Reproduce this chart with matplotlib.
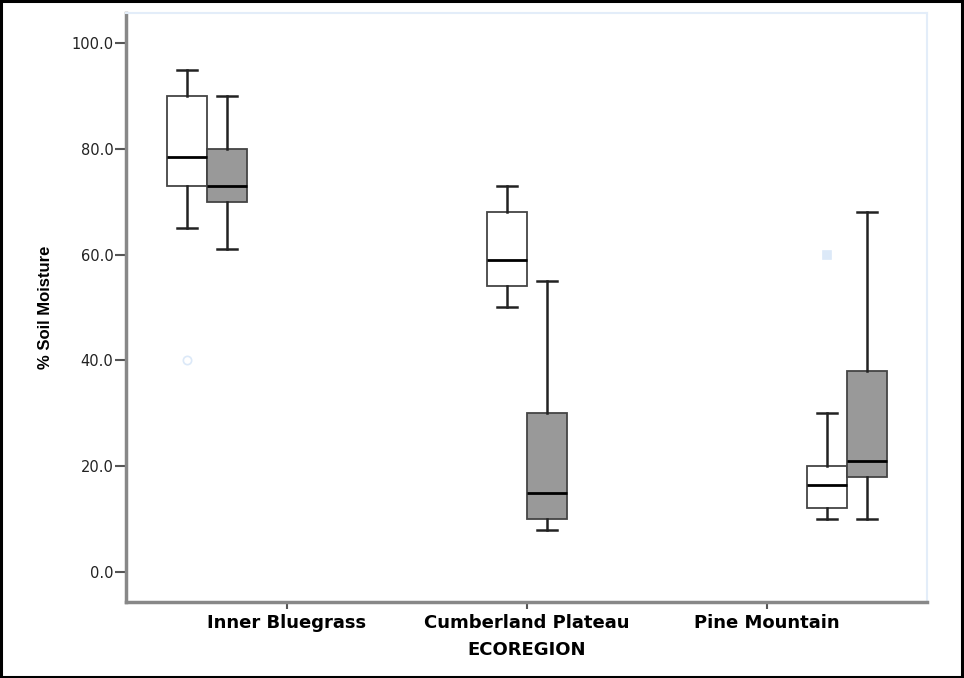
import matplotlib
matplotlib.use("Agg")
import matplotlib.pyplot as plt
from matplotlib.patches import Rectangle
from matplotlib import font_manager

# ---- data ----
regions = ["Inner Bluegrass", "Cumberland Plateau", "Pine Mountain"]
# stats per region: [whislo, q1, median, q3, whishi]
white_stats = [[65, 73, 78.5, 90, 95],
               [50, 54, 59, 68, 73],
               [10, 12, 16.5, 20, 30]]
gray_stats = [[61, 70, 73, 80, 90],
              [8, 10, 15, 30, 55],
              [10, 18, 21, 38, 68]]
white_fliers = [[40], [], [60]]
gray_fliers = [[], [], []]
flier_markers = ["o", None, "s"]
yticks = [0, 20, 40, 60, 80, 100]

fig = plt.figure(figsize=(9.64, 6.78), dpi=100)
ax = fig.add_axes([126/964, 1 - 602/678, 801/964, 589/678])

box_w = 0.125
off = 0.0625

def mk(s, fl):
    return dict(whislo=s[0], q1=s[1], med=s[2], q3=s[3], whishi=s[4], fliers=fl)

boxprops = dict(edgecolor="#444444", linewidth=1.3)
medprops = dict(color="black", linewidth=2.0)
whprops = dict(color="#222222", linewidth=1.8)
capprops = dict(color="#222222", linewidth=1.8)

for i in range(3):
    for stats, fl, dx, fc in [(white_stats, white_fliers, -off, "white"),
                              (gray_stats, gray_fliers, off, "#999999")]:
        bp = ax.bxp([mk(stats[i], fl[i])], positions=[i + dx], widths=box_w,
                    patch_artist=True, showfliers=True,
                    boxprops=dict(facecolor=fc, **boxprops),
                    medianprops=medprops, whiskerprops=whprops,
                    capprops=capprops,
                    flierprops=dict(marker=flier_markers[i] or "o",
                                    markerfacecolor="#dce9f8" if flier_markers[i] == "s" else "none",
                                    markeredgecolor="#dce9f8", markersize=6,
                                    markeredgewidth=1.2),
                    zorder=3)
        for c in bp["caps"]:
            x0, x1 = c.get_xdata()
            cx = (x0 + x1) / 2
            c.set_xdata([cx - 0.031, cx + 0.031])

ax.set_xlim(-0.253, 2.25)
ax.set_ylim(-5.7, 105.7)
ax.set_yticks(yticks)
ax.set_yticklabels([f"{v:.1f}" for v in yticks], fontsize=10.5,
                   family=["DejaVu Sans"], color="#222222")
ax.set_xticks([0.25, 1.0, 1.75])
ax.set_xticklabels(regions, fontsize=13, fontweight="bold",
                   family=["DejaVu Sans"])
ax.tick_params(axis="y", length=8, width=1.5, color="#555555", pad=1)
ax.tick_params(axis="x", length=5, width=1.5, color="#555555", pad=4)

for s in ["left", "bottom"]:
    ax.spines[s].set_color("#888888")
    ax.spines[s].set_linewidth(2.5)
for s in ["top", "right"]:
    ax.spines[s].set_color("#e3edf9")
    ax.spines[s].set_linewidth(1.5)

ax.set_xlabel("ECOREGION", fontsize=13, fontweight="bold",
              family=["DejaVu Sans"], labelpad=6)

narrow_ok = False
try:
    font_manager.findfont(font_manager.FontProperties(family="Liberation Sans Narrow"),
                          fallback_to_default=False)
    narrow_ok = True
except Exception:
    narrow_ok = False
if narrow_ok:
    yl_family, yl_size = ["Liberation Sans Narrow", "DejaVu Sans"], 14.5
else:
    yl_family, yl_size = ["Liberation Sans", "DejaVu Sans"], 12
fig.text(45/964, 1 - 307/678, "% Soil Moisture", rotation=90, ha="center",
         va="center", fontsize=yl_size, fontweight="bold", family=yl_family)

fig.patches.append(Rectangle((0.0012, 0.0016), 0.9968, 0.9962, transform=fig.transFigure,
                             fill=False, edgecolor="black", linewidth=2.2))

fig.savefig("out.png", dpi=100)
